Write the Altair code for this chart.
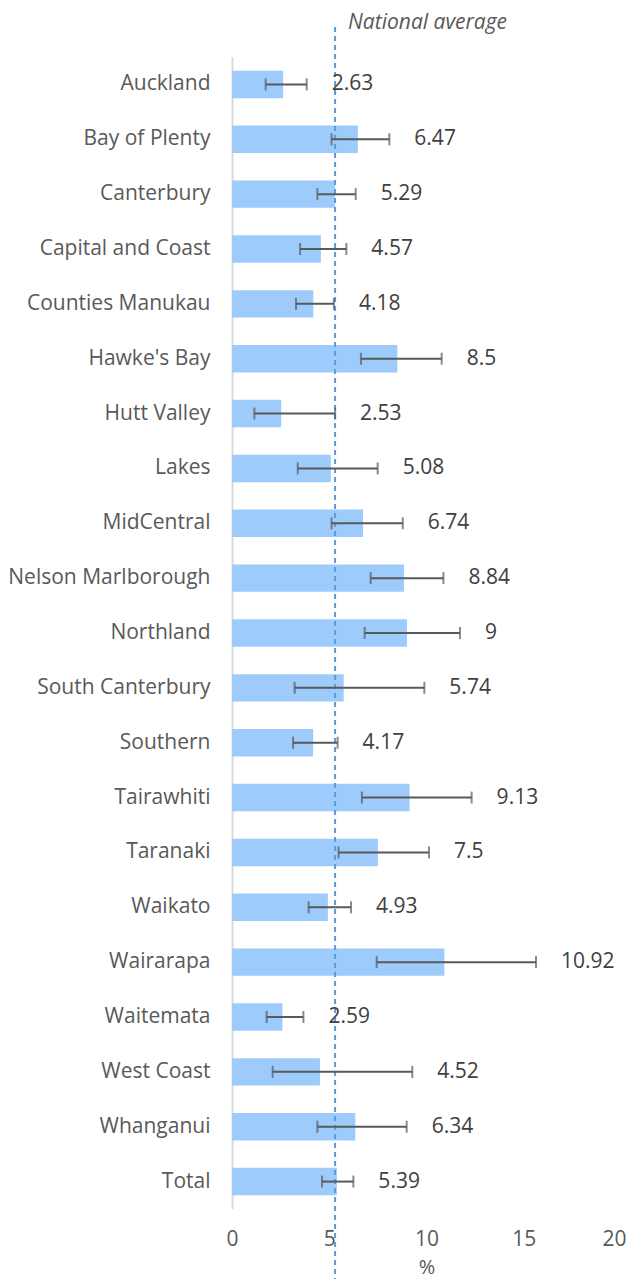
import altair as alt
import pandas as pd

regions = ["Auckland", "Bay of Plenty", "Canterbury", "Capital and Coast",
           "Counties Manukau", "Hawke's Bay", "Hutt Valley", "Lakes",
           "MidCentral", "Nelson Marlborough", "Northland", "South Canterbury",
           "Southern", "Tairawhiti", "Taranaki", "Waikato", "Wairarapa",
           "Waitemata", "West Coast", "Whanganui", "Total"]
rates = [2.63, 6.47, 5.29, 4.57, 4.18, 8.5, 2.53, 5.08, 6.74, 8.84, 9,
         5.74, 4.17, 9.13, 7.5, 4.93, 10.92, 2.59, 4.52, 6.34, 5.39]
lower = [1.73, 5.12, 4.39, 3.50, 3.29, 6.63, 1.15, 3.38, 5.12, 7.13, 6.82,
         3.22, 3.14, 6.68, 5.48, 3.94, 7.44, 1.78, 2.09, 4.39, 4.63]
upper = [3.84, 8.09, 6.36, 5.88, 5.24, 10.78, 5.30, 7.49, 8.78, 10.87, 11.72,
         9.89, 5.43, 12.32, 10.13, 6.12, 15.63, 3.67, 9.27, 8.98, 6.24]
national_average = 5.3
x_ticks = [0, 5, 10, 15, 20]

df = pd.DataFrame({
    "region": regions,
    "rate": rates,
    "lower": lower,
    "upper": upper,
    "label": [f"{v:g}" for v in rates],
})
avg_df = pd.DataFrame({"avg": [national_average], "text": ["National average"]})

FONT = "Open Sans"
GREY = "#595959"

xscale = alt.Scale(domain=[0, 20], nice=False, zero=True)
yenc = alt.Y("region:N", sort=None,
             scale=alt.Scale(paddingInner=0.5, paddingOuter=0.25),
             axis=alt.Axis(title=None, labelFontSize=21, labelColor=GREY,
                           labelFont=FONT, labelPadding=22, ticks=False,
                           domainColor="#D9D9D9", domainWidth=2, labelLimit=400))

base = alt.Chart(df)

bars = base.mark_bar(color="#9DCBFB").encode(
    x=alt.X("rate:Q", scale=xscale,
            axis=alt.Axis(values=x_ticks, title="%", grid=False, domain=False,
                          ticks=False, labelFontSize=21, labelColor=GREY,
                          labelFont=FONT, labelPadding=19, labelFlush=False,
                          labelAlign={"condition": {"test": "datum.value >= 20",
                                                    "value": "right"},
                                      "value": "center"},
                          labelOffset={"condition": {"test": "datum.value >= 20",
                                                     "value": 5},
                                       "value": 0},
                          titleFontSize=20, titleFont=FONT, titleColor=GREY,
                          titleFontWeight="normal", titleBaseline="alphabetic",
                          titleY=64)),
    y=yenc,
)

avg_line = alt.Chart(avg_df).mark_rule(color="#5B9BD5", strokeDash=[5, 4],
                                       strokeWidth=2).encode(
    x=alt.X("avg:Q", scale=xscale),
    y=alt.value(-30),
    y2=alt.value(1222),
)

avg_text = alt.Chart(avg_df).mark_text(align="left", baseline="middle",
                                       fontStyle="italic", fontSize=21,
                                       font=FONT, color=GREY, dx=13).encode(
    x=alt.X("avg:Q", scale=xscale),
    y=alt.value(-34),
    text="text:N",
)

err_line = base.mark_rule(color=GREY, strokeWidth=2).encode(
    x=alt.X("lower:Q", scale=xscale),
    x2="upper:Q",
    y=alt.Y("region:N", sort=None),
)
cap_lo = base.mark_tick(color=GREY, thickness=2, size=12, orient="vertical").encode(
    x=alt.X("lower:Q", scale=xscale),
    y=alt.Y("region:N", sort=None),
)
cap_hi = base.mark_tick(color=GREY, thickness=2, size=12, orient="vertical").encode(
    x=alt.X("upper:Q", scale=xscale),
    y=alt.Y("region:N", sort=None),
)

labels = base.mark_text(align="left", baseline="middle", fontSize=21,
                        font=FONT, color="#404040", dx=25).encode(
    x=alt.X("upper:Q", scale=xscale),
    y=alt.Y("region:N", sort=None),
    text="label:N",
)

chart = alt.layer(bars, avg_line, err_line, cap_lo, cap_hi, labels, avg_text).properties(
    width=389,
    height=1152,
    autosize=alt.AutoSizeParams(type="none"),
    padding={"left": 224, "top": 49, "right": 5, "bottom": 70},
).configure(font=FONT).configure_view(stroke=None)

chart.save("out.html", embed_options={"renderer": "svg", "actions": False})
